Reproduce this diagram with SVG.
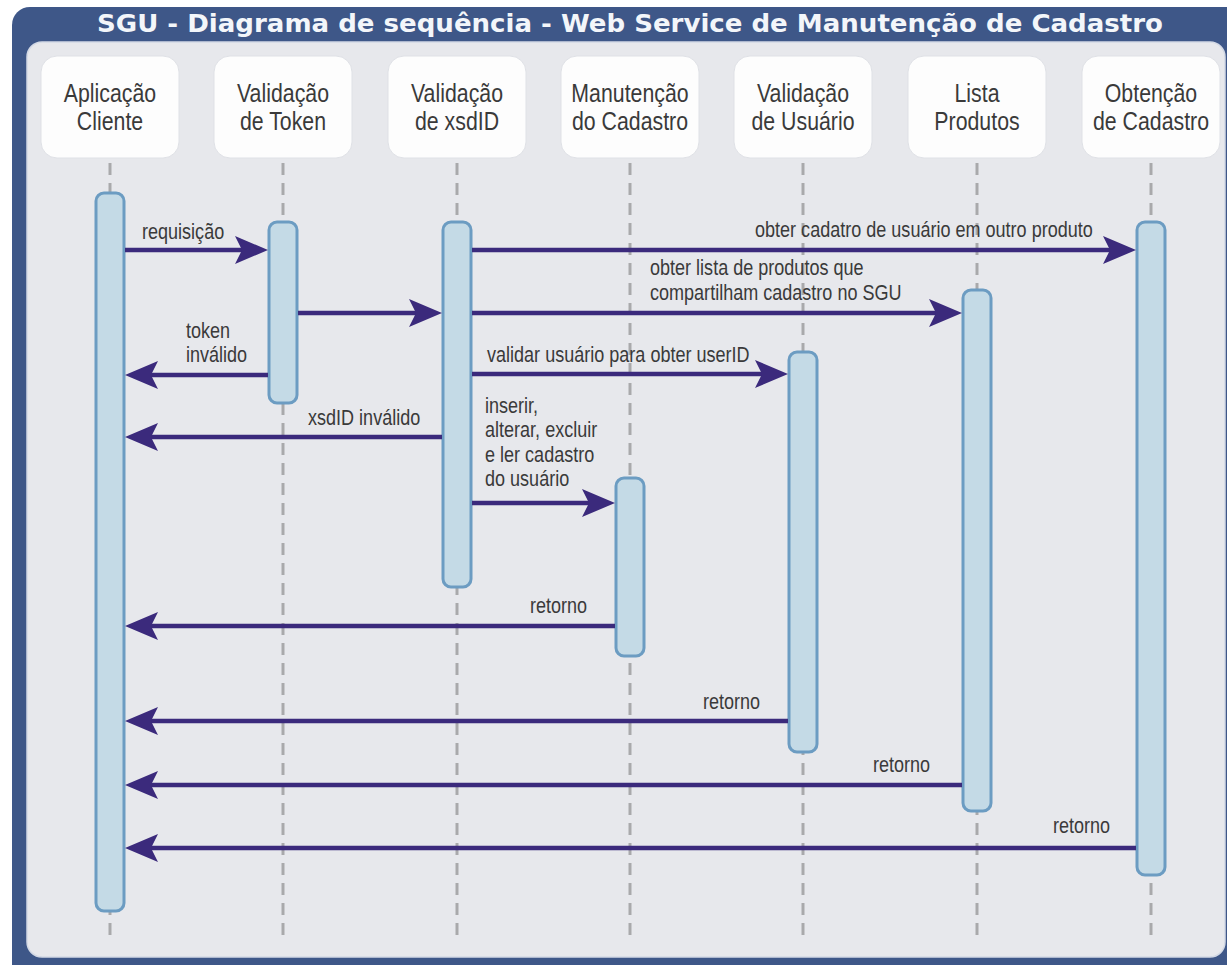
<svg xmlns="http://www.w3.org/2000/svg" width="1227" height="965" viewBox="0 0 1227 965">
<defs>
<style>
.nb{fill:#fdfdfd;stroke:#dfe1e6;stroke-width:1}
.nt{font-family:"Liberation Sans",Arial,sans-serif;font-size:26px;fill:#3a3a3a;text-anchor:middle}
.mt{font-family:"Liberation Sans",Arial,sans-serif;font-size:22px;fill:#3a3a3a}
.life{stroke:#a9a9ab;stroke-width:3;stroke-dasharray:12 8;fill:none}
.bar{fill:#c4dae6;stroke:#6c9cc2;stroke-width:3}
.msg{stroke:#3b2a7c;stroke-width:4.5;fill:none;marker-end:url(#ah)}
</style>
<marker id="ah" viewBox="0 0 33 28" refX="23" refY="14" markerWidth="33" markerHeight="28" markerUnits="userSpaceOnUse" orient="auto">
<path d="M0,0 L33,14 L0,28 L7,14 Z" fill="#3b2a7c"/>
</marker>
</defs>
<rect x="0" y="0" width="1227" height="965" fill="#ffffff"/>
<rect x="12" y="7" width="1240" height="980" rx="18" fill="#3e5788"/>
<rect x="27" y="42" width="1198" height="915" rx="15" fill="#e7e8ec" stroke="#d3d9e5" stroke-width="1.5"/>
<text x="97" y="32" textLength="1066" lengthAdjust="spacingAndGlyphs" font-family="'DejaVu Sans',Verdana,sans-serif" font-weight="bold" font-size="25" fill="#f3f6fa">SGU - Diagrama de sequência - Web Service de Manutenção de Cadastro</text>

<g id="lifelines">
<line class="life" x1="110" y1="163" x2="110" y2="942"/>
<line class="life" x1="283" y1="163" x2="283" y2="942"/>
<line class="life" x1="457" y1="163" x2="457" y2="942"/>
<line class="life" x1="630" y1="163" x2="630" y2="942"/>
<line class="life" x1="803" y1="163" x2="803" y2="942"/>
<line class="life" x1="977" y1="163" x2="977" y2="942"/>
<line class="life" x1="1151" y1="163" x2="1151" y2="942"/>
</g>

<g id="n-aplicacao">
<rect class="nb" x="41" y="56" width="138" height="102" rx="16"/>
<text class="nt" transform="translate(110,102) scale(0.82,1)"><tspan x="0" y="0">Aplicação</tspan><tspan x="0" y="28">Cliente</tspan></text>
<rect class="bar" x="96" y="193" width="28" height="718" rx="8"/>
</g>
<g id="n-token">
<rect class="nb" x="214" y="56" width="138" height="102" rx="16"/>
<text class="nt" transform="translate(283,102) scale(0.82,1)"><tspan x="0" y="0">Validação</tspan><tspan x="0" y="28">de Token</tspan></text>
<rect class="bar" x="269" y="222" width="28" height="181" rx="8"/>
</g>
<g id="n-xsdid">
<rect class="nb" x="388" y="56" width="138" height="102" rx="16"/>
<text class="nt" transform="translate(457,102) scale(0.82,1)"><tspan x="0" y="0">Validação</tspan><tspan x="0" y="28">de xsdID</tspan></text>
<rect class="bar" x="443" y="222" width="28" height="365" rx="8"/>
</g>
<g id="n-manutencao">
<rect class="nb" x="561" y="56" width="138" height="102" rx="16"/>
<text class="nt" transform="translate(630,102) scale(0.82,1)"><tspan x="0" y="0">Manutenção</tspan><tspan x="0" y="28">do Cadastro</tspan></text>
<rect class="bar" x="616" y="478" width="28" height="178" rx="8"/>
</g>
<g id="n-usuario">
<rect class="nb" x="734" y="56" width="138" height="102" rx="16"/>
<text class="nt" transform="translate(803,102) scale(0.82,1)"><tspan x="0" y="0">Validação</tspan><tspan x="0" y="28">de Usuário</tspan></text>
<rect class="bar" x="789" y="352" width="28" height="400" rx="8"/>
</g>
<g id="n-lista">
<rect class="nb" x="908" y="56" width="138" height="102" rx="16"/>
<text class="nt" transform="translate(977,102) scale(0.82,1)"><tspan x="0" y="0">Lista</tspan><tspan x="0" y="28">Produtos</tspan></text>
<rect class="bar" x="963" y="290" width="28" height="521" rx="8"/>
</g>
<g id="n-obtencao">
<rect class="nb" x="1082" y="56" width="138" height="102" rx="16"/>
<text class="nt" transform="translate(1151,102) scale(0.82,1)"><tspan x="0" y="0">Obtenção</tspan><tspan x="0" y="28">de Cadastro</tspan></text>
<rect class="bar" x="1137" y="222" width="28" height="653" rx="8"/>
</g>

<g id="connectors">
<line class="msg" x1="125" y1="250" x2="258" y2="250"/>
<line class="msg" x1="298" y1="313" x2="432" y2="313"/>
<line class="msg" x1="268" y1="375" x2="135" y2="375"/>
<line class="msg" x1="442" y1="437" x2="135" y2="437"/>
<line class="msg" x1="472" y1="250" x2="1126" y2="250"/>
<line class="msg" x1="472" y1="313" x2="952" y2="313"/>
<line class="msg" x1="472" y1="374" x2="778" y2="374"/>
<line class="msg" x1="472" y1="503" x2="605" y2="503"/>
<line class="msg" x1="615" y1="626" x2="135" y2="626"/>
<line class="msg" x1="788" y1="721" x2="135" y2="721"/>
<line class="msg" x1="962" y1="785" x2="135" y2="785"/>
<line class="msg" x1="1136" y1="848" x2="135" y2="848"/>
</g>

<g id="labels">
<text class="mt" transform="translate(142,239) scale(0.82,1)">requisição</text>
<text class="mt" transform="translate(186,338) scale(0.82,1)"><tspan x="0" y="0">token</tspan><tspan x="0" y="24.5">inválido</tspan></text>
<text class="mt" transform="translate(308,425) scale(0.82,1)">xsdID inválido</text>
<text class="mt" transform="translate(755,237) scale(0.82,1)">obter cadatro de usuário em outro produto</text>
<text class="mt" transform="translate(650,275) scale(0.82,1)"><tspan x="0" y="0">obter lista de produtos que</tspan><tspan x="0" y="25">compartilham cadastro no SGU</tspan></text>
<text class="mt" transform="translate(487,362) scale(0.82,1)">validar usuário para obter userID</text>
<text class="mt" transform="translate(485,413) scale(0.82,1)"><tspan x="0" y="0">inserir,</tspan><tspan x="0" y="24.5">alterar, excluir</tspan><tspan x="0" y="49">e ler cadastro</tspan><tspan x="0" y="73.5">do usuário</tspan></text>
<text class="mt" transform="translate(530,613) scale(0.82,1)">retorno</text>
<text class="mt" transform="translate(703,709) scale(0.82,1)">retorno</text>
<text class="mt" transform="translate(873,772) scale(0.82,1)">retorno</text>
<text class="mt" transform="translate(1053,833) scale(0.82,1)">retorno</text>
</g>
</svg>
